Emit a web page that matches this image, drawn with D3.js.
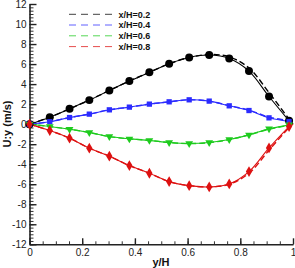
<!DOCTYPE html>
<html>
<head>
<meta charset="utf-8">
<script src="https://cdn.jsdelivr.net/npm/d3@7"></script>
<style>
body { margin: 0; background: #fff; }
text { font-family: "Liberation Sans", Arial, sans-serif; }
</style>
</head>
<body>
<div id="chart"></div>
<script>
var width = 295;
var height = 268;

// datos
var yH = [0, 0.077, 0.152, 0.227, 0.303, 0.379, 0.455, 0.53, 0.606, 0.682, 0.758, 0.833, 0.909, 0.985];
var yH_linea = [0, 0.077, 0.152, 0.227, 0.303, 0.379, 0.455, 0.53, 0.606, 0.682, 0.758, 0.833, 0.909, 0.985, 1];

var u_02 = [0, 0.7, 1.53, 2.4, 3.36, 4.3, 5.18, 6.03, 6.66, 6.9, 6.56, 5.3, 2.76, 0.33];
var u_04 = [0, 0.24, 0.66, 1.0, 1.43, 1.7, 2.0, 2.23, 2.43, 2.3, 1.83, 1.36, 0.63, 0.26];
var u_06 = [0, -0.24, -0.5, -0.84, -1.24, -1.47, -1.62, -1.84, -1.94, -1.84, -1.54, -1.07, -0.47, -0.07];
var u_08 = [0, -0.64, -1.4, -2.4, -3.2, -4.14, -4.9, -5.74, -6.14, -6.27, -5.97, -4.74, -2.37, -0.24];

var u_02_dash = [0, 0.7, 1.53, 2.4, 3.36, 4.3, 5.18, 6.03, 6.66, 6.95, 6.72, 5.6, 3.15, 0.5, 0];
var u_04_dash = [0, 0.24, 0.66, 1.0, 1.43, 1.7, 2.0, 2.23, 2.43, 2.3, 1.85, 1.4, 0.7, 0.3, 0];
var u_06_dash = [0, -0.24, -0.5, -0.84, -1.24, -1.47, -1.62, -1.84, -1.94, -1.84, -1.54, -1.07, -0.5, -0.1, 0];
var u_08_dash = [0, -0.64, -1.4, -2.4, -3.2, -4.14, -4.9, -5.74, -6.14, -6.27, -6.0, -4.9, -2.6, -0.35, 0];

var etiquetas = ["x/H=0.2", "x/H=0.4", "x/H=0.6", "x/H=0.8"];
var colores = ["#000000", "#2b2bff", "#1ecb1e", "#dd1111"];
var simbolos = [d3.symbolCircle, d3.symbolSquare, d3.symbolTriangle, d3.symbolDiamond];

var ticks_x = [0, 0.2, 0.4, 0.6, 0.8, 1];
var ticks_y = [-12, -10, -8, -6, -4, -2, 0, 2, 4, 6, 8, 10, 12];

var series = [u_02, u_04, u_06, u_08];
var series_dash = [u_02_dash, u_04_dash, u_06_dash, u_08_dash];

var canvas = d3.select("#chart")
	.append("svg")
	.attr("width", width)
	.attr("height", height);

var x = d3.scaleLinear().domain([0, 1]).range([29.5, 293]);
var y = d3.scaleLinear().domain([-12, 12]).range([244.3, 4]);

// ticks menores
var menores_x = d3.range(0, 1.0001, 0.05);
var menores_y = d3.range(-12, 12.001, 2 / 6);

canvas.append("g")
	.attr("transform", "translate(0," + y(-12) + ")")
	.call(d3.axisBottom(x).tickValues(menores_x).tickSize(-3).tickFormat(""))
	.call(function(g) { g.select(".domain").remove(); })
	.selectAll("line").attr("stroke", "#333");

canvas.append("g")
	.attr("transform", "translate(" + x(0) + ",0)")
	.call(d3.axisLeft(y).tickValues(menores_y).tickSize(-4).tickFormat(""))
	.call(function(g) { g.select(".domain").remove(); })
	.selectAll("line").attr("stroke", "#333");

// ejes principales
var eje_x = canvas.append("g")
	.attr("transform", "translate(0," + y(-12) + ")")
	.call(d3.axisBottom(x).tickValues(ticks_x).tickSizeInner(-6).tickSizeOuter(0).tickPadding(5)
		.tickFormat(function(d) { return String(d); }));

var eje_y = canvas.append("g")
	.attr("transform", "translate(" + x(0) + ",0)")
	.call(d3.axisLeft(y).tickValues(ticks_y).tickSizeInner(-7).tickSizeOuter(0).tickPadding(3)
		.tickFormat(function(d) { return String(d); }));

[eje_x, eje_y].forEach(function(e) {
	e.select(".domain").attr("stroke", "#222").attr("stroke-width", 1.6);
	e.selectAll(".tick line").attr("stroke", "#222").attr("stroke-width", 1.4);
	e.selectAll(".tick text")
		.attr("font-size", 10)
		.attr("fill", "#222")
		.style("font-family", "'Liberation Sans', Arial, sans-serif");
});

// lineas
var linea = d3.line()
	.x(function(d) { return x(d[0]); })
	.y(function(d) { return y(d[1]); })
	.curve(d3.curveCatmullRom);

var grupo_lineas = canvas.append("g");

for (var i = 0; i < 4; i++) {
	grupo_lineas.append("path")
		.datum(yH_linea.map(function(v, j) { return [v, series_dash[i][j]]; }))
		.attr("d", linea)
		.attr("fill", "none")
		.attr("stroke", colores[i])
		.attr("stroke-width", 1.4)
		.attr("stroke-dasharray", "6,3");

	grupo_lineas.append("path")
		.datum(yH.map(function(v, j) { return [v, series[i][j]]; }))
		.attr("d", linea)
		.attr("fill", "none")
		.attr("stroke", colores[i])
		.attr("stroke-width", 1.1);
}

// simbolos (orden: circulo, cuadrado, triangulo, diamante)
var tamanos = [50, 28, 26, 34];
for (var i = 0; i < 4; i++) {
	var forma = d3.symbol().type(simbolos[i]).size(tamanos[i]);
	canvas.append("g")
		.selectAll("path")
		.data(yH.map(function(v, j) { return [v, series[i][j]]; }))
		.enter()
		.append("path")
		.attr("d", forma)
		.attr("fill", colores[i])
		.attr("transform", function(d) {
			var rot = (i == 2) ? " rotate(180)" : "";
			return "translate(" + x(d[0]) + "," + y(d[1]) + ")" + rot;
		});
}

// leyenda
var grupo_leyenda = canvas.append("g");
var filas_y = [14.3, 25, 35.8, 46.6];
for (var i = 0; i < 4; i++) {
	grupo_leyenda.append("line")
		.attr("x1", 69)
		.attr("x2", 112)
		.attr("y1", filas_y[i])
		.attr("y2", filas_y[i])
		.attr("stroke", colores[i])
		.attr("stroke-width", 1)
		.attr("stroke-opacity", 0.75)
		.attr("stroke-dasharray", "7,5");
	grupo_leyenda.append("text")
		.attr("x", 118.5)
		.attr("y", filas_y[i] + 3.3)
		.attr("font-size", 9)
		.attr("font-weight", "bold")
		.attr("fill", "#111")
		.text(etiquetas[i]);
}

// titulos de ejes
canvas.append("text")
	.attr("x", 161)
	.attr("y", 266)
	.attr("text-anchor", "middle")
	.attr("font-size", 11)
	.attr("font-weight", "bold")
	.attr("fill", "#111")
	.text("y/H");

canvas.append("text")
	.attr("transform", "translate(11,124) rotate(-90)")
	.attr("text-anchor", "middle")
	.attr("font-size", 11)
	.attr("font-weight", "bold")
	.attr("fill", "#111")
	.text("U:y (m/s)");
</script>
</body>
</html>
